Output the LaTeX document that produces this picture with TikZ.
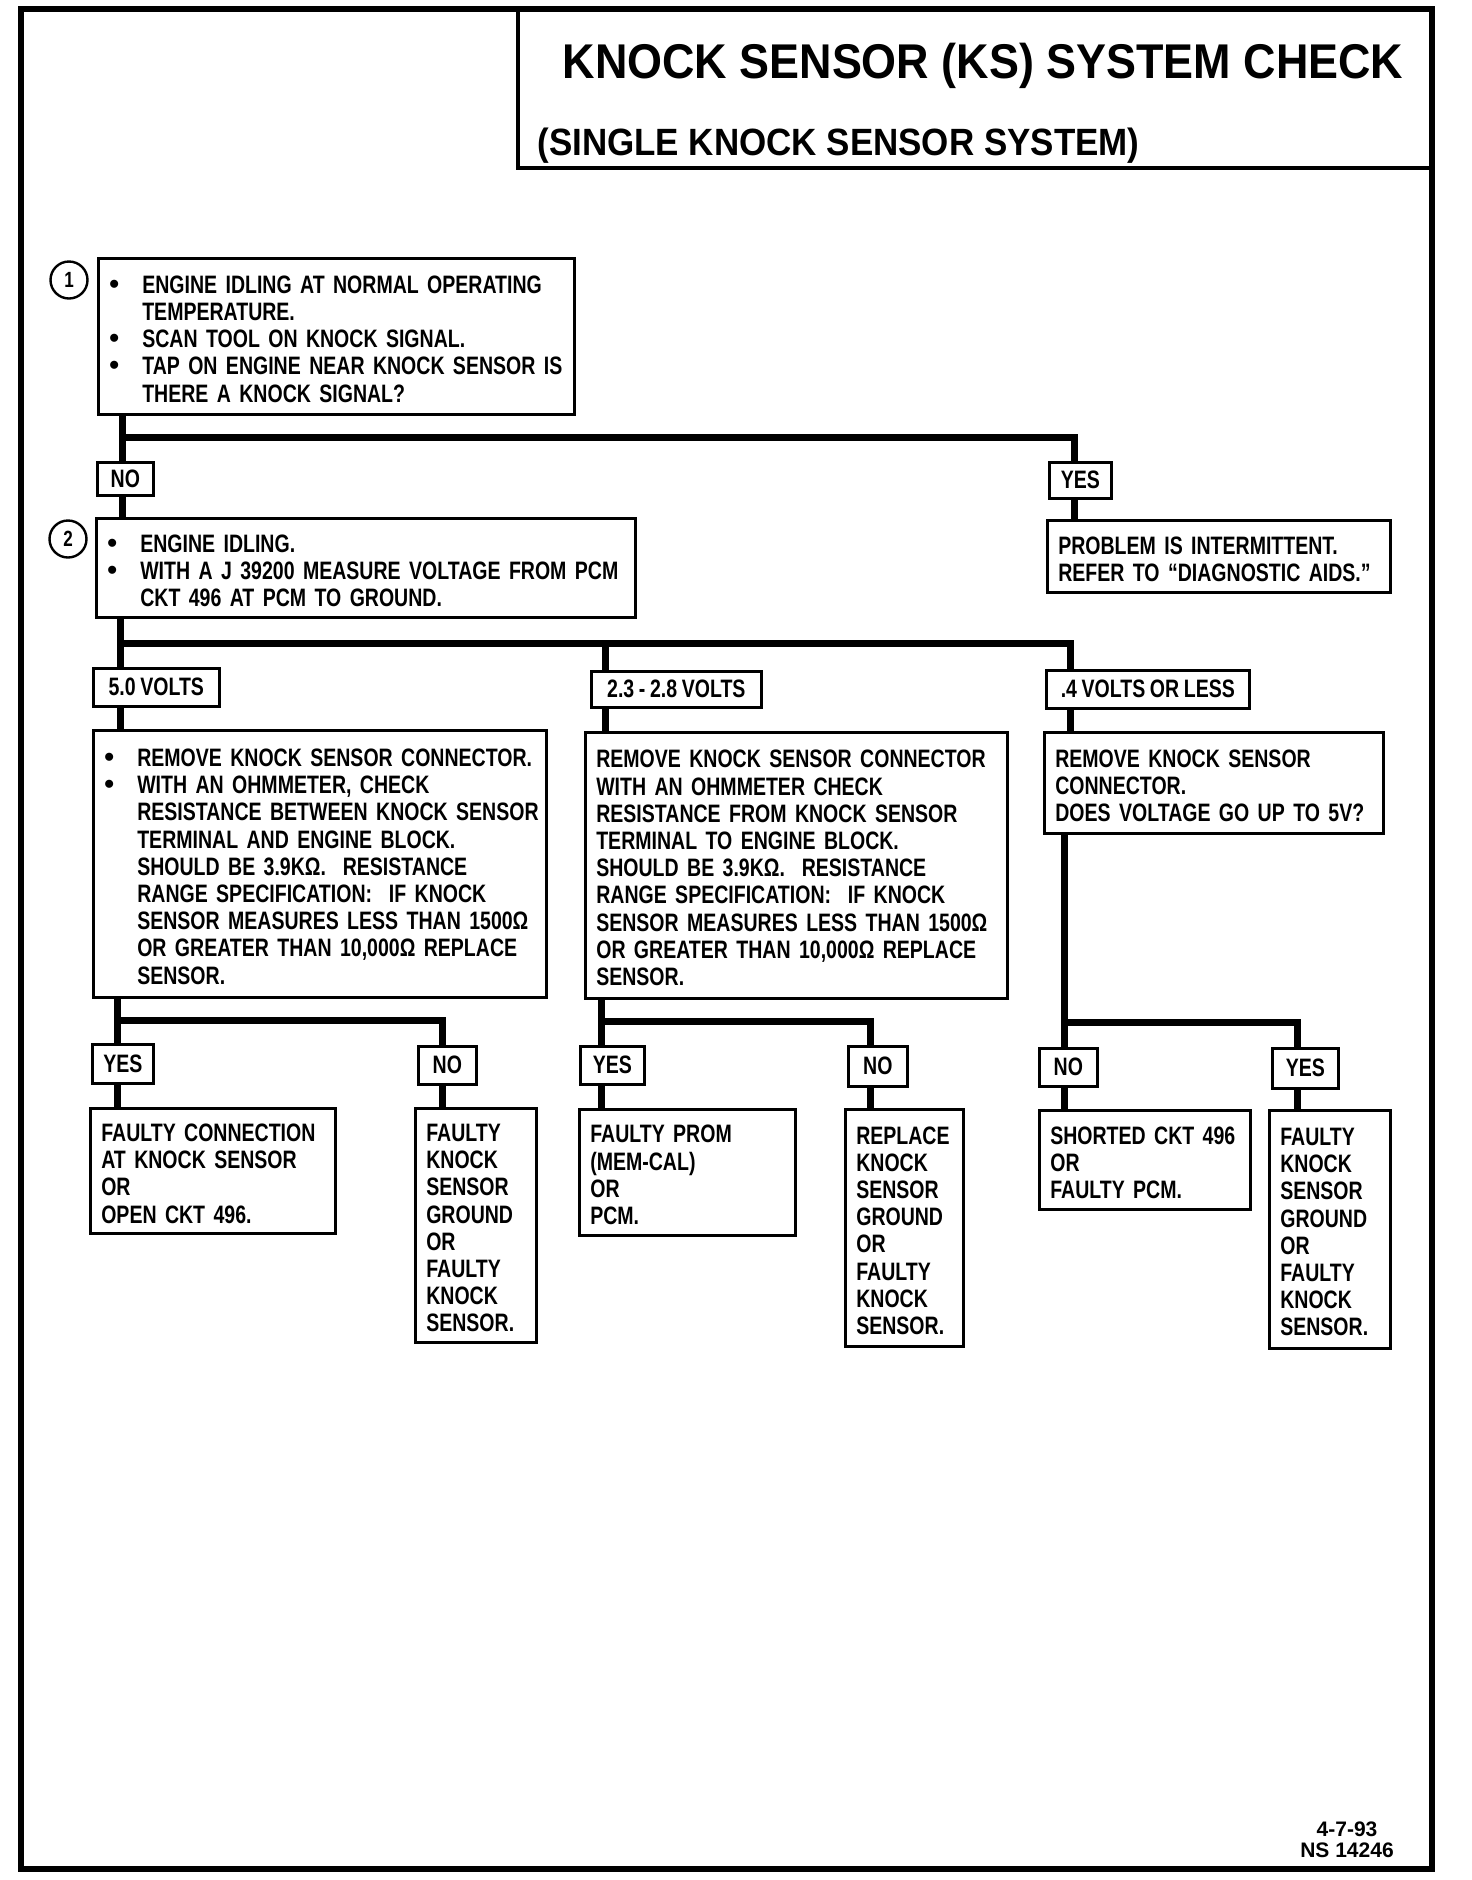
\documentclass[tikz,border=0pt]{standalone}
\usepackage{fontspec}
\usepackage{tikz}
\usetikzlibrary{calc,positioning}
\setmainfont{Liberation Sans}
\newfontfamily\boxfamily{Liberation Sans}[FakeStretch=0.775,WordSpace=0.85]
\newfontfamily\headfamily{Liberation Sans}[FakeStretch=0.92]
\newfontfamily\dotfamily{Liberation Sans}
\newcommand{\boxfont}{\boxfamily\bfseries\fontsize{12.6}{13.6}\selectfont}
\newcommand{\bul}{\makebox[16.5pt][l]{\dotfamily\fontsize{14}{13.6}\selectfont\textbullet}}
\newcommand{\ind}{\hspace*{16.5pt}}
\newcommand{\lines}[1]{\raisebox{0pt}[\dimexpr\height+6pt\relax][\depth]{\begin{tabular}{@{}l@{}}#1\end{tabular}}}

\tikzset{
	box/.style 2 args={draw, line width=1.3pt, anchor=north west, align=left, inner xsep=5.5pt, inner ysep=0pt, text width=#1pt, minimum height=#2pt, font=\boxfont},
	tag/.style 2 args={draw, line width=1.3pt, anchor=north west, inner sep=0pt, minimum width=#1*0.5pt, minimum height=#2*0.5pt, font=\boxfont},
	link/.style={line width=3.5pt},
	stepnum/.style={draw, circle, line width=1.2pt, minimum size=18.5pt, inner sep=0pt, font=\boxfamily\bfseries\fontsize{11}{11}\selectfont}
}

\begin{document}
\begin{tikzpicture}[x=0.5pt,y=-0.5pt]
	\fill[white] (0,0) rectangle (1472,1880);
	\useasboundingbox (0,0) rectangle (1472,1880);
	\draw[line width=2.8pt] (21,9) rectangle (1432,1869);
	\draw[line width=1.8pt] (518,9) rectangle (1432,168);
	\node[anchor=base, inner sep=0pt, font=\headfamily\bfseries\fontsize{24.4}{28}\selectfont] (title) at (983,78) {KNOCK SENSOR (KS) SYSTEM CHECK};
	\node[anchor=base west, inner sep=0pt, font=\headfamily\bfseries\fontsize{19}{22}\selectfont] (subtitle) at (537,155) {(SINGLE KNOCK SENSOR SYSTEM)};
	
	\node[stepnum] (c1) at (69,280) {1};
	\node[box={227}{78}] (q1) at (97,257) {\lines{\bul ENGINE IDLING AT NORMAL OPERATING\\ \ind TEMPERATURE.\\ \bul SCAN TOOL ON KNOCK SIGNAL.\\ \bul TAP ON ENGINE NEAR KNOCK SENSOR IS\\ \ind THERE A KNOCK SIGNAL?}};
	\node[tag={56}{33}] (no1) at (96,461) {NO};
	\node[tag={62}{36}] (yes1) at (1048,461) {YES};
	\node[stepnum] (c2) at (68,539) {2};
	\node[box={258.5}{49.5}] (q2) at (95,517) {\lines{\bul ENGINE IDLING.\\ \bul WITH A J 39200 MEASURE VOLTAGE FROM PCM\\ \ind CKT 496 AT PCM TO GROUND.}};
	\node[box={160.5}{36}] (intermit) at (1046,519) {\lines{PROBLEM IS INTERMITTENT.\\ REFER TO “DIAGNOSTIC AIDS.”}};
	
	\node[tag={126}{38}] (v50) at (92,667) {5.0 VOLTS};
	\node[tag={170}{36}] (v23) at (590,670) {2.3 - 2.8 VOLTS};
	\node[tag={203}{38}] (v04) at (1045,669) {.4 VOLTS OR LESS};
	\node[box={215.5}{133.5}] (ohm5) at (92,729) {\lines{\bul REMOVE KNOCK SENSOR CONNECTOR.\\ \bul WITH AN OHMMETER, CHECK\\ \ind RESISTANCE BETWEEN KNOCK SENSOR\\ \ind TERMINAL AND ENGINE BLOCK.\\ \ind SHOULD BE 3.9KΩ.~~RESISTANCE\\ \ind RANGE SPECIFICATION:~~IF KNOCK\\ \ind SENSOR MEASURES LESS THAN 1500Ω\\ \ind OR GREATER THAN 10,000Ω REPLACE\\ \ind SENSOR.}};
	\node[box={200}{133}] (ohm23) at (584,731) {\lines{REMOVE KNOCK SENSOR CONNECTOR\\ WITH AN OHMMETER CHECK\\ RESISTANCE FROM KNOCK SENSOR\\ TERMINAL TO ENGINE BLOCK.\\ SHOULD BE 3.9KΩ.~~RESISTANCE\\ RANGE SPECIFICATION:~~IF KNOCK\\ SENSOR MEASURES LESS THAN 1500Ω\\ OR GREATER THAN 10,000Ω REPLACE\\ SENSOR.}};
	\node[box={158.5}{50.5}] (conn04) at (1043,731) {\lines{REMOVE KNOCK SENSOR\\ CONNECTOR.\\ DOES VOLTAGE GO UP TO 5V?}};
	
	\node[tag={61}{39}] (yesA) at (91,1043) {YES};
	\node[tag={58}{38}] (noA) at (417,1045) {NO};
	\node[tag={64}{38}] (yesB) at (579,1045) {YES};
	\node[tag={59}{40}] (noB) at (847,1045) {NO};
	\node[tag={58}{38}] (noC) at (1038,1047) {NO};
	\node[tag={66}{40}] (yesC) at (1271,1047) {YES};
	\node[box={111.5}{62.5}] (out1) at (89,1107) {\lines{FAULTY CONNECTION\\ AT KNOCK SENSOR\\ OR\\ OPEN CKT 496.}};
	\node[box={49.5}{117}] (out2) at (414,1107) {\lines{FAULTY\\ KNOCK\\ SENSOR\\ GROUND\\ OR\\ FAULTY\\ KNOCK\\ SENSOR.}};
	\node[box={97}{63}] (out3) at (578,1108) {\lines{FAULTY PROM\\ (MEM-CAL)\\ OR\\ PCM.}};
	\node[box={48}{118.5}] (out4) at (844,1108) {\lines{REPLACE\\ KNOCK\\ SENSOR\\ GROUND\\ OR\\ FAULTY\\ KNOCK\\ SENSOR.}};
	\node[box={94.5}{49.5}] (out5) at (1038,1109) {\lines{SHORTED CKT 496\\ OR\\ FAULTY PCM.}};
	\node[box={49.5}{119}] (out6) at (1268,1109) {\lines{FAULTY\\ KNOCK\\ SENSOR\\ GROUND\\ OR\\ FAULTY\\ KNOCK\\ SENSOR.}};
	
	\coordinate (j1) at (122,437);
	\coordinate (j1r) at (1074,437);
	\draw[link] (q1.south -| j1) -- (j1) -- (j1r) -- (yes1.north -| j1r);
	\draw[link] (j1) -- (no1.north -| j1);
	\draw[link] (no1.south -| j1) -- (q2.north -| j1);
	\draw[link] (yes1.south -| j1r) -- (intermit.north -| j1r);
	
	\coordinate (j2) at (120,643);
	\coordinate (j2m) at (605,643);
	\coordinate (j2r) at (1070,643);
	\draw[link] (q2.south -| j2) -- (j2) -- (j2r) -- (v04.north -| j2r);
	\draw[link] (j2) -- (v50.north -| j2);
	\draw[link] (v50.south -| j2) -- (ohm5.north -| j2);
	\draw[link] (j2m) -- (v23.north -| j2m);
	\draw[link] (v23.south -| j2m) -- (ohm23.north -| j2m);
	\draw[link] (v04.south -| j2r) -- (conn04.north -| j2r);
	
	\coordinate (j3a) at (117,1020);
	\coordinate (j3ar) at (442,1020);
	\draw[link] (ohm5.south -| j3a) -- (j3a) -- (j3ar) -- (noA.north -| j3ar);
	\draw[link] (j3a) -- (yesA.north -| j3a);
	\draw[link] (yesA.south -| j3a) -- (out1.north -| j3a);
	\draw[link] (noA.south -| j3ar) -- (out2.north -| j3ar);
	
	\coordinate (j3b) at (601,1021);
	\coordinate (j3br) at (870,1021);
	\draw[link] (ohm23.south -| j3b) -- (j3b) -- (j3br) -- (noB.north -| j3br);
	\draw[link] (j3b) -- (yesB.north -| j3b);
	\draw[link] (yesB.south -| j3b) -- (out3.north -| j3b);
	\draw[link] (noB.south -| j3br) -- (out4.north -| j3br);
	
	\coordinate (j3c) at (1064,1022);
	\coordinate (j3cr) at (1297,1022);
	\draw[link] (conn04.south -| j3c) -- (j3c) -- (j3cr) -- (yesC.north -| j3cr);
	\draw[link] (j3c) -- (noC.north -| j3c);
	\draw[link] (noC.south -| j3c) -- (out5.north -| j3c);
	\draw[link] (yesC.south -| j3cr) -- (out6.north -| j3cr);
	
	\node[align=center, inner sep=0pt, font=\dotfamily\bfseries\fontsize{10.5}{10.5}\selectfont] (code) at (1347,1840) {4-7-93\\NS 14246};
\end{tikzpicture}
\end{document}
